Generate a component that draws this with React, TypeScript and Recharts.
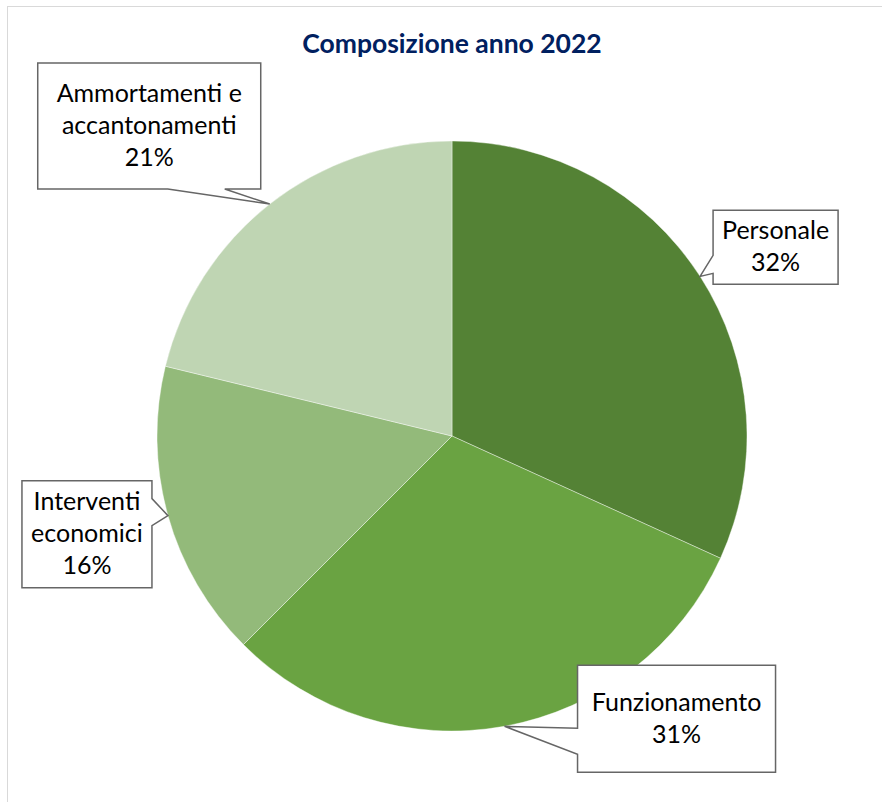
import { PieChart, Pie, Cell } from "recharts";

const categories = [
  "Personale",
  "Funzionamento",
  "Interventi economici",
  "Ammortamenti e accantonamenti",
];
const shares = [31.8, 30.7, 16.3, 21.2];
const labelLines = [
  ["Personale"],
  ["Funzionamento"],
  ["Interventi", "economici"],
  ["Ammortamenti e", "accantonamenti"],
];
const colors = ["#548235", "#6aa342", "#93ba7a", "#bfd5b3"];

// callout box placement, relative to the point where the pointer meets the slice
const callouts = [
  { dx: 13, dy: -66, w: 125, h: 74, side: "left", a: 45, b: 63 },
  { dx: 73, dy: -61, w: 198, h: 107, side: "left", a: 63, b: 89 },
  { dx: -146, dy: -35, w: 130, h: 107, side: "right", a: 18, b: 45 },
  { dx: -232, dy: -141, w: 223, h: 126, side: "bottom", a: 130, b: 187 },
];

const data = categories.map((name, i) => ({ name, value: shares[i] }));

const RADIAN = Math.PI / 180;
const FONT = "Lato, 'Open Sans', sans-serif";

function calloutPath(tx: number, ty: number, c: any) {
  const x = tx + c.dx;
  const y = ty + c.dy;
  const pts: string[] = [`M${x},${y}`, `L${x + c.w},${y}`];
  if (c.side === "right") {
    pts.push(`L${x + c.w},${y + c.a}`, `L${tx},${ty}`, `L${x + c.w},${y + c.b}`);
  }
  pts.push(`L${x + c.w},${y + c.h}`);
  if (c.side === "bottom") {
    pts.push(`L${x + c.b},${y + c.h}`, `L${tx},${ty}`, `L${x + c.a},${y + c.h}`);
  }
  pts.push(`L${x},${y + c.h}`);
  if (c.side === "left") {
    pts.push(`L${x},${y + c.b}`, `L${tx},${ty}`, `L${x},${y + c.a}`);
  }
  pts.push("Z");
  return pts.join(" ");
}

function renderLabel(props: any) {
  const { cx, cy, midAngle, outerRadius, percent, index } = props;
  const tx = cx + outerRadius * Math.cos(-midAngle * RADIAN);
  const ty = cy + outerRadius * Math.sin(-midAngle * RADIAN);
  const c = callouts[index];
  const lines = [...labelLines[index], `${Math.round(percent * 100)}%`];
  const midX = tx + c.dx + c.w / 2;
  const midY = ty + c.dy + c.h / 2;
  const lh = 32;
  const first = midY - ((lines.length - 1) * lh) / 2 + 8;
  return (
    <g key={`callout-${index}`}>
      <path d={calloutPath(tx, ty, c)} fill="#ffffff" stroke="#666666" strokeWidth={1.5} />
      <text
        x={midX}
        textAnchor="middle"
        fontFamily={FONT}
        fontSize={25}
        fill="#000000"
      >
        {lines.map((l, i) => (
          <tspan key={i} x={midX} y={first + i * lh}>
            {l}
          </tspan>
        ))}
      </text>
    </g>
  );
}

export default function App() {
  return (
    <div
      style={{
        position: "absolute",
        left: 0,
        top: 0,
        width: 882,
        height: 802,
        overflow: "hidden",
        background: "#ffffff",
      }}
    >
      <div
        style={{
          position: "absolute",
          left: 7,
          top: 6,
          width: 900,
          height: 900,
          border: "1px solid #d9d9d9",
        }}
      />
      <div style={{ position: "absolute", left: 0, top: 0 }}>
        <PieChart width={882} height={802} margin={{ top: 0, right: 0, bottom: 0, left: 0 }}>
          <text
            x={452}
            y={53}
            textAnchor="middle"
            fontFamily={FONT}
            fontWeight="bold"
            fontSize={26.5}
            fill="#002060"
          >
            Composizione anno 2022
          </text>
          <Pie
            data={data}
            dataKey="value"
            nameKey="name"
            cx={452}
            cy={436}
            outerRadius={295}
            startAngle={90}
            endAngle={-270}
            stroke="#ffffff"
            strokeWidth={0.4}
            label={renderLabel}
            labelLine={false}
            isAnimationActive={false}
          >
            {data.map((d, i) => (
              <Cell key={d.name} fill={colors[i]} />
            ))}
          </Pie>
        </PieChart>
      </div>
    </div>
  );
}
